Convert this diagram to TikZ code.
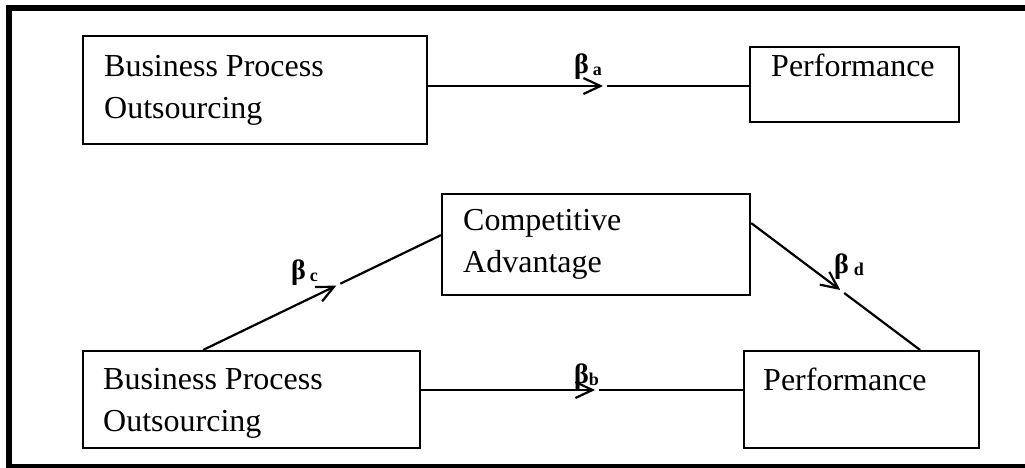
\documentclass[tikz,border=0pt]{standalone}
\usepackage{fontspec}
\setmainfont{Liberation Serif}
\usetikzlibrary{arrows.meta,calc}

\tikzset{
  boxnode/.style={draw, line width=2.2pt, rectangle, inner sep=0pt, anchor=north west},
  txt/.style={inner sep=0pt, align=left, font=\fontsize{32}{42}\selectfont, anchor=base west},
  beta/.style={inner sep=0pt, anchor=base west, font=\fontsize{28}{28}\selectfont\bfseries},
  conn/.style={line width=2.2pt},
  arr/.style={-{Straight Barb[length=17pt,width=16pt,line width=2.2pt]}},
}
\newcommand{\subl}[1]{\raisebox{-2pt}{\fontsize{18}{18}\selectfont\bfseries #1}}

\begin{document}
\begin{tikzpicture}[x=1pt,y=-1pt]
  \useasboundingbox (0,0) rectangle (1025,467);
  \clip (0,0) rectangle (1025,467);

  % outer frame
  \draw[line width=6pt] (9,8) rectangle (1060,467);

  % boxes
  \node[boxnode, minimum width=344pt, minimum height=108pt] (bpo1) at (82,35) {};
  \node[boxnode, minimum width=209pt, minimum height=75pt] (perf1) at (749,46) {};
  \node[boxnode, minimum width=308pt, minimum height=101pt] (ca) at (441,193) {};
  \node[boxnode, minimum width=337pt, minimum height=97pt] (bpo2) at (82,350) {};
  \node[boxnode, minimum width=235pt, minimum height=97pt] (perf2) at (743,350) {};

  % box texts (base anchor sits on the last line)
  \node[txt] (tbpo1) at (104,118) {Business Process\\Outsourcing};
  \node[txt] (tperf1) at (771,76) {Performance};
  \node[txt] (tca) at (463,272) {Competitive\\Advantage};
  \node[txt] (tbpo2) at (103,431) {Business Process\\Outsourcing};
  \node[txt] (tperf2) at (763,390) {Performance};

  % path a: top row
  \coordinate (ma) at (603,86);
  \draw[conn, arr] (bpo1.east |- ma) -- (ma);
  \draw[conn] ([xshift=4pt]ma) -- (perf1.west |- ma);

  % path b: bottom row
  \coordinate (mb) at (595,390);
  \draw[conn, arr] (bpo2.east |- mb) -- (mb);
  \draw[conn] ([xshift=4pt]mb) -- (perf2.west |- mb);

  % path c: outsourcing to competitive advantage
  \coordinate (cs) at ([xshift=121pt]bpo2.north west);
  \coordinate (ce) at ([yshift=9.5pt]ca.west);
  \coordinate (mc) at ($(cs)!0.56!(ce)$);
  \coordinate (mc2) at ($(mc)!4.5pt!(ce)$);
  \draw[conn, arr] (cs) -- (mc);
  \draw[conn] (mc2) -- (ce);

  % path d: competitive advantage to performance
  \coordinate (ds) at ([yshift=21.5pt]ca.east);
  \coordinate (de) at ([xshift=58.5pt]perf2.north);
  \coordinate (md) at ($(ds)!0.527!(de)$);
  \coordinate (md2) at ($(md)!5pt!(de)$);
  \draw[conn, arr] (ds) -- (md);
  \draw[conn] (md2) -- (de);

  % coefficient labels
  \node[beta] (la) at (574,73) {β\kern4pt\subl{a}};
  \node[beta] (lb) at (574,383) {β\kern0pt\subl{b}};
  \node[beta] (lc) at (291,279) {β\kern4pt\subl{c}};
  \node[beta] (ld) at (834,273) {β\kern5pt\subl{d}};
\end{tikzpicture}
\end{document}
